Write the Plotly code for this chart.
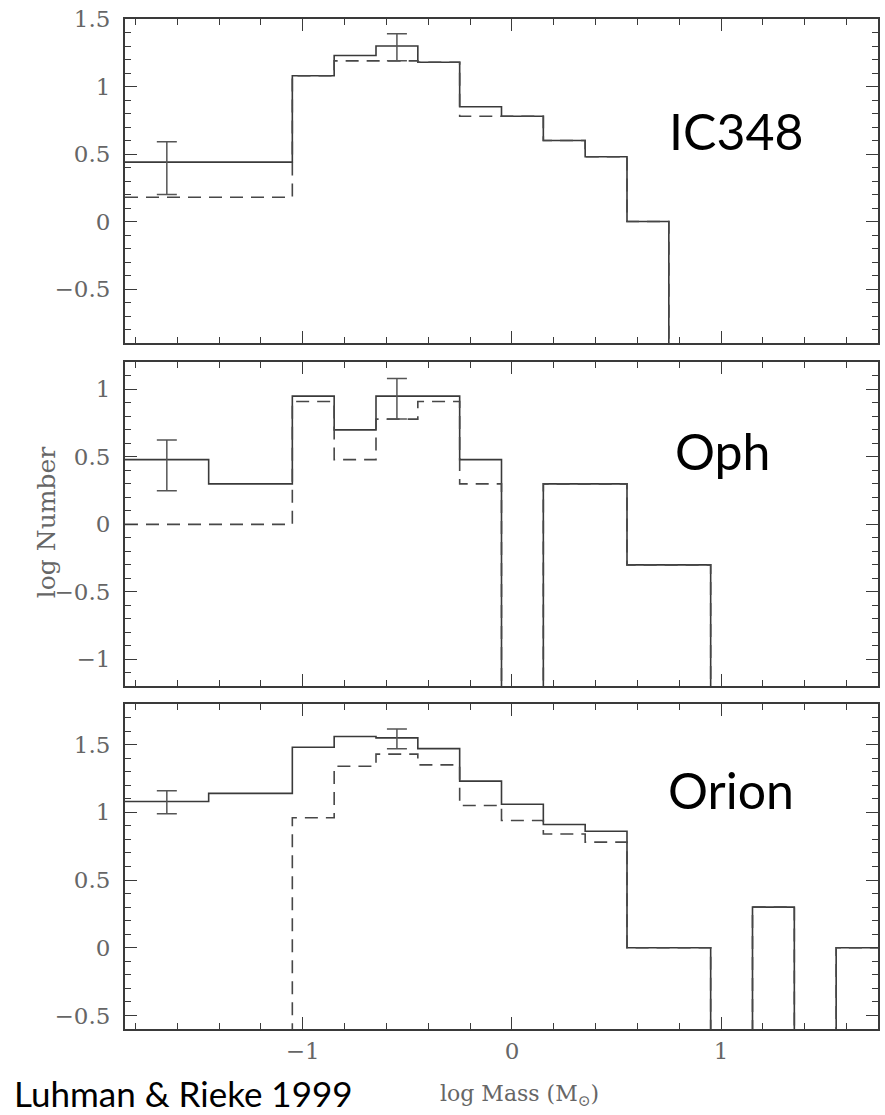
import plotly.graph_objects as go

# ---- mass function histograms: bin edges in log M, values in log N ----
# None marks an empty bin (the histogram drops below the frame)
ic348_edges = [-1.85, -1.05, -0.85, -0.65, -0.45, -0.25, -0.05, 0.15, 0.35, 0.55, 0.75]
ic348_all = [0.44, 1.08, 1.23, 1.30, 1.18, 0.85, 0.78, 0.60, 0.48, 0.00]
ic348_sub = [0.18, 1.08, 1.19, 1.19, 1.18, 0.78, 0.78, 0.60, 0.48, 0.00]

oph_edges = [-1.85, -1.45, -1.05, -0.85, -0.65, -0.45, -0.25, -0.05, 0.15, 0.55, 0.95]
oph_all = [0.48, 0.30, 0.95, 0.70, 0.95, 0.95, 0.48, None, 0.30, -0.30]
oph_sub = [0.00, 0.00, 0.91, 0.48, 0.78, 0.91, 0.30, None, 0.30, -0.30]

orion_edges = [-1.85, -1.45, -1.05, -0.85, -0.65, -0.45, -0.25, -0.05, 0.15, 0.35,
               0.55, 0.95, 1.15, 1.35, 1.55, 1.95]
orion_all = [1.08, 1.14, 1.48, 1.56, 1.55, 1.47, 1.23, 1.06, 0.91, 0.86,
             0.00, None, 0.30, None, 0.00]
orion_sub = [None, None, 0.96, 1.34, 1.43, 1.35, 1.05, 0.94, 0.84, 0.78,
             0.00, None, 0.30, None, 0.00]

# representative error bars (x position, lower and upper log N)
err_x = [-1.65, -0.55]
ic348_err_lo = [0.20, 1.19]
ic348_err_hi = [0.59, 1.39]
oph_err_lo = [0.25, 0.78]
oph_err_hi = [0.625, 1.08]
orion_err_lo = [0.99, 1.47]
orion_err_hi = [1.16, 1.615]

panel_names = ["IC348", "Oph", "Orion"]
y_ranges = [[-0.9, 1.5], [-1.2, 1.2], [-0.6, 1.8]]
x_range = [-1.85, 1.75]
x_tickvals = [-1, 0, 1]


def steps(edges, vals, floor=-5.0):
    xs, ys = [], []
    first = floor if vals[0] is None else vals[0]
    xs.append(edges[0])
    ys.append(first)
    for i, v in enumerate(vals):
        y = floor if v is None else v
        xs += [edges[i], edges[i + 1]]
        ys += [y, y]
    xs.append(edges[-1])
    ys.append(floor)
    return xs, ys


SOLID = "#3a3a3a"
DASHED = "#474747"
AXIS = "#3a3a3a"
LABEL = "#666666"

panels = [
    (ic348_edges, ic348_all, ic348_sub, ic348_err_lo, ic348_err_hi),
    (oph_edges, oph_all, oph_sub, oph_err_lo, oph_err_hi),
    (orion_edges, orion_all, orion_sub, orion_err_lo, orion_err_hi),
]

domains = [[0.6792, 1.0], [0.3392, 0.6600], [0.0, 0.3218]]
text_pos = [(0.811, 0.655), (0.793, 0.728), (0.805, 0.735)]

fig = go.Figure()

for k, (edges, v_all, v_sub, lo, hi) in enumerate(panels):
    xa = "x" if k == 0 else f"x{k + 1}"
    ya = "y" if k == 0 else f"y{k + 1}"
    xs, ys = steps(edges, v_all)
    fig.add_trace(go.Scatter(x=xs, y=ys, mode="lines", xaxis=xa, yaxis=ya,
                             line=dict(color=SOLID, width=1.6), showlegend=False,
                             hoverinfo="skip"))
    xs, ys = steps(edges, v_sub)
    fig.add_trace(go.Scatter(x=xs, y=ys, mode="lines", xaxis=xa, yaxis=ya,
                             line=dict(color=DASHED, width=1.6, dash="13px,8px"),
                             showlegend=False, hoverinfo="skip"))
    mid = [(a + b) / 2 for a, b in zip(lo, hi)]
    half = [(b - a) / 2 for a, b in zip(lo, hi)]
    fig.add_trace(go.Scatter(x=err_x, y=mid, mode="markers", xaxis=xa, yaxis=ya,
                             marker=dict(size=1, color="rgba(0,0,0,0)"),
                             error_y=dict(type="data", array=half, symmetric=True,
                                          color="#555555", thickness=1.5, width=10),
                             showlegend=False, hoverinfo="skip"))

    axis_common = dict(showline=True, linecolor=AXIS, linewidth=2, mirror="allticks",
                       ticks="inside", tickcolor=AXIS, tickwidth=1.3, ticklen=12,
                       showgrid=False, zeroline=False,
                       tickfont=dict(family="DejaVu Serif", size=23, color=LABEL))
    xkey = "xaxis" if k == 0 else f"xaxis{k + 1}"
    ykey = "yaxis" if k == 0 else f"yaxis{k + 1}"
    fig.update_layout(**{
        xkey: dict(axis_common, range=x_range, anchor=ya, tickmode="array",
                   tickvals=x_tickvals, showticklabels=(k == 2),
                   minor=dict(dtick=0.2, tick0=0, ticklen=6, ticks="inside",
                              tickcolor=AXIS, tickwidth=1.2),
                   matches=None if k == 0 else "x"),
        ykey: dict(axis_common, range=y_ranges[k], anchor=xa, domain=domains[k],
                   dtick=0.5, tick0=0, ticklabelstandoff=8,
                   minor=dict(dtick=0.1, tick0=0, ticklen=6, ticks="inside",
                              tickcolor=AXIS, tickwidth=1.2)),
    })
    tx, ty = text_pos[k]
    fig.add_annotation(text=panel_names[k], x=tx, y=ty,
                       xref=f"{xa} domain", yref=f"{ya} domain",
                       showarrow=False, xanchor="center", yanchor="middle",
                       font=dict(family="Lato", size=50, color="#000000"))

fig.add_annotation(text="log Number", x=-0.1033, y=0.501, xref="paper", yref="paper",
                   textangle=-90, showarrow=False, xanchor="center", yanchor="middle",
                   font=dict(family="DejaVu Serif", size=25, color=LABEL))
fig.add_annotation(text="log Mass (M<sub>⊙</sub>)", x=0.5245, y=-0.066,
                   xref="paper", yref="paper", showarrow=False,
                   xanchor="center", yanchor="middle",
                   font=dict(family="DejaVu Serif", size=22, color=LABEL))
fig.add_annotation(text="Luhman &amp; Rieke 1999", x=-0.1497, y=-0.063,
                   xref="paper", yref="paper", showarrow=False,
                   xanchor="left", yanchor="middle",
                   font=dict(family="Lato", size=35, color="#000000"))

fig.update_layout(width=885, height=1115, margin=dict(l=125, r=5, t=19, b=86),
                  paper_bgcolor="white", plot_bgcolor="white")

fig.write_html("out.html")
